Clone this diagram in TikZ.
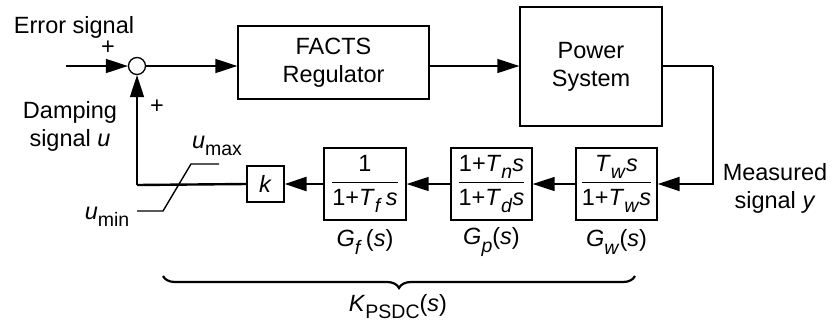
\documentclass[tikz,border=0pt]{standalone}
\usepackage{amsmath}
\usepackage{fontspec}
\setmainfont{Liberation Sans}
\usetikzlibrary{arrows.meta,decorations.pathreplacing}
\newcommand{\sbs}[1]{\raisebox{-0.3em}{\fontsize{19.5}{21}\selectfont #1}}
\begin{document}
\begin{tikzpicture}[x=1pt,y=-1pt,
  font=\fontsize{23.5}{28}\selectfont,
  blk/.style={draw,line width=1.3pt,inner sep=0pt,align=center},
  conn/.style={line width=1.4pt},
  arr/.style={conn,-{Triangle[length=22pt,width=14pt]}},
  lbl/.style={inner sep=0pt,align=center}]
\useasboundingbox (0,0) rectangle (833,325);
% summing junction and input
\node[draw,circle,line width=1.3pt,minimum size=17pt,inner sep=0pt] (sum) at (137,66) {};
\coordinate (in) at (66,66);
\node[lbl] (err) at (74,27) {Error signal};
\node[lbl] (p1) at (108,48) {+};
\node[lbl] (p2) at (157,107) {+};
% forward blocks
\node[blk,minimum width=191pt,minimum height=73pt] (fr) at (333.5,62.5) {FACTS\\Regulator};
\node[blk,minimum width=142pt,minimum height=119pt] (pw) at (591,66.5) {Power\\System};
\coordinate (c1) at (713,66);
\coordinate (c2) at (713,184);
\node[lbl] (meas) at (775,188) {Measured\\signal \textit{y}};
% feedback blocks
\node[blk,minimum width=81pt,minimum height=72pt] (gw) at (616.5,184)
  {$\dfrac{\text{\textit{T}\sbs{\textit{w}}\textit{s}}}{\text{1+\textit{T}\sbs{\textit{w}}\textit{s}}}$};
\node[blk,minimum width=81pt,minimum height=72pt] (gp) at (491.5,184)
  {$\dfrac{\text{1+\textit{T}\sbs{\textit{n}}\textit{s}}}{\text{1+\textit{T}\sbs{\textit{d}}\textit{s}}}$};
\node[blk,minimum width=82pt,minimum height=72pt] (gf) at (365,184)
  {$\dfrac{\text{1}}{\text{1+\textit{T}\sbs{\textit{f}}\,\textit{s}}}$};
\node[blk,minimum width=37pt,minimum height=36pt] (k) at (265.5,184) {\textit{k}};
\coordinate (c3) at (137,185);
% transfer function labels
\node[lbl] (lgw) at (616.5,242) {\textit{G}\sbs{\textit{w}}(\textit{s})};
\node[lbl] (lgp) at (491.5,242) {\textit{G}\sbs{\textit{p}}(\textit{s})};
\node[lbl] (lgf) at (365,242) {\textit{G}\sbs{\textit{f}}\,(\textit{s})};
% limiter
\coordinate (s1) at (137,211);
\coordinate (s2) at (163,211);
\coordinate (s3) at (191,164);
\coordinate (s4) at (219,164);
\draw[line width=1.4pt] (s1) -- (s2) -- (s3) -- (s4);
\node[lbl] (umax) at (217,146) {\textit{u}\sbs{max}};
\node[lbl] (umin) at (107,217) {\textit{u}\sbs{min}};
\node[lbl] (damp) at (70,126) {Damping\\signal \textit{u}};
% connectors
\draw[arr] (in) -- (sum.west);
\draw[arr] (sum.east) -- (sum.east -| fr.west);
\draw[arr] (fr.east |- sum) -- (pw.west |- sum);
\draw[conn] (pw.east |- c1) -- (c1);
\draw[arr,line width=2pt] (c1) -- (c2) -- (gw.east |- c2);
\draw[arr] (gw.west) -- (gp.east);
\draw[arr] (gp.west) -- (gf.east);
\draw[arr,line width=2.4pt] (gf.west) -- (k.east);
\draw[line width=2.4pt] (k.west) -- (c3);
\draw[arr] (c3) -- (sum.south);
% brace
\coordinate (br1) at (163,276);
\coordinate (br2) at (635,276);
\draw[decorate,decoration={brace,amplitude=12pt,mirror},line width=2.2pt] (br1) -- (br2);
\node[lbl] (kl) at (398,307) {\textit{K}\sbs{PSDC}(\textit{s})};
\end{tikzpicture}
\end{document}
